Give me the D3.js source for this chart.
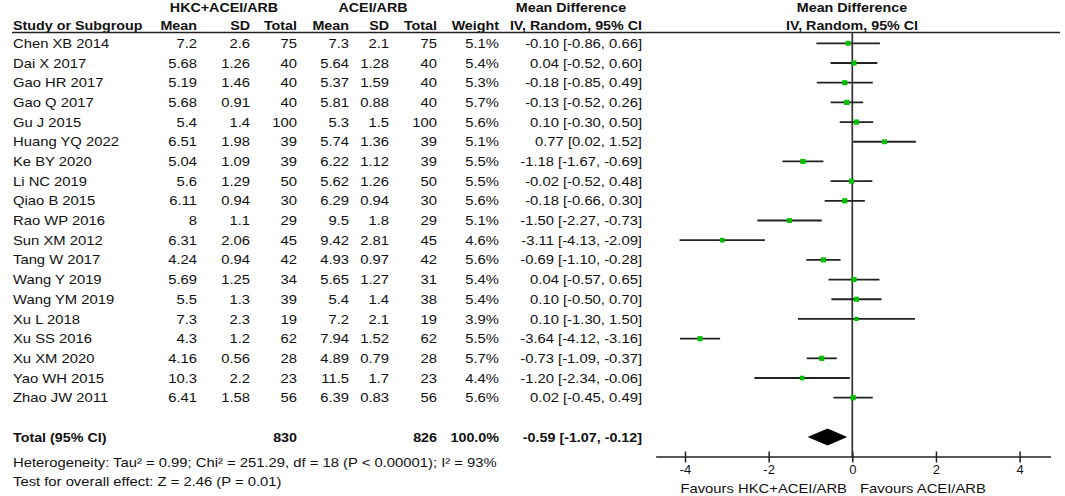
<!DOCTYPE html>
<html lang="en">
  <head>
    <meta charset="utf-8">
    <title>Forest plot</title>
    <script src="https://d3js.org/d3.v7.min.js"></script>
    <style>
      body { margin: 0; background: #fff; }
      svg text { font-family: "Liberation Sans", Arial, sans-serif; font-size: 13px; fill: #111; }
    </style>
  </head>
  <body>
    <div id="grafico"></div>
    <script>
      // data
      const studies = ['Chen XB 2014', 'Dai X 2017', 'Gao HR 2017', 'Gao Q 2017', 'Gu J 2015',
        'Huang YQ 2022', 'Ke BY 2020', 'Li NC 2019', 'Qiao B 2015', 'Rao WP 2016', 'Sun XM 2012',
        'Tang W 2017', 'Wang Y 2019', 'Wang YM 2019', 'Xu L 2018', 'Xu SS 2016', 'Xu XM 2020',
        'Yao WH 2015', 'Zhao JW 2011']
      const mean1 = [7.2, 5.68, 5.19, 5.68, 5.4, 6.51, 5.04, 5.6, 6.11, 8, 6.31, 4.24, 5.69, 5.5, 7.3, 4.3, 4.16, 10.3, 6.41]
      const sd1 = [2.6, 1.26, 1.46, 0.91, 1.4, 1.98, 1.09, 1.29, 0.94, 1.1, 2.06, 0.94, 1.25, 1.3, 2.3, 1.2, 0.56, 2.2, 1.58]
      const n1 = [75, 40, 40, 40, 100, 39, 39, 50, 30, 29, 45, 42, 34, 39, 19, 62, 28, 23, 56]
      const mean2 = [7.3, 5.64, 5.37, 5.81, 5.3, 5.74, 6.22, 5.62, 6.29, 9.5, 9.42, 4.93, 5.65, 5.4, 7.2, 7.94, 4.89, 11.5, 6.39]
      const sd2 = [2.1, 1.28, 1.59, 0.88, 1.5, 1.36, 1.12, 1.26, 0.94, 1.8, 2.81, 0.97, 1.27, 1.4, 2.1, 1.52, 0.79, 1.7, 0.83]
      const n2 = [75, 40, 40, 40, 100, 39, 39, 50, 30, 29, 45, 42, 31, 38, 19, 62, 28, 23, 56]
      const weight = [5.1, 5.4, 5.3, 5.7, 5.6, 5.1, 5.5, 5.5, 5.6, 5.1, 4.6, 5.6, 5.4, 5.4, 3.9, 5.5, 5.7, 4.4, 5.6]
      const md = [-0.10, 0.04, -0.18, -0.13, 0.10, 0.77, -1.18, -0.02, -0.18, -1.50, -3.11, -0.69, 0.04, 0.10, 0.10, -3.64, -0.73, -1.20, 0.02]
      const lo = [-0.86, -0.52, -0.85, -0.52, -0.30, 0.02, -1.67, -0.52, -0.66, -2.27, -4.13, -1.10, -0.57, -0.50, -1.30, -4.12, -1.09, -2.34, -0.45]
      const hi = [0.66, 0.60, 0.49, 0.26, 0.50, 1.52, -0.69, 0.48, 0.30, -0.73, -2.09, -0.28, 0.65, 0.70, 1.50, -3.16, -0.37, -0.06, 0.49]
      const total = { n1: 830, n2: 826, weight: 100.0, md: -0.59, lo: -1.07, hi: -0.12 }
      const ticks = [-4, -2, 0, 2, 4]

      const largura = 1065, altura = 496
      const svg = d3.select('#grafico').append('svg')
        .attr('width', largura).attr('height', altura)
      svg.append('rect').attr('width', largura).attr('height', altura).attr('fill', '#fff')

      const y = d3.scalePoint().domain(studies).range([43.3, 397.7])
      const yTotal = 437
      const x = d3.scaleLinear().domain([-4, 4]).range([685, 1019.6])
      const tam = d3.scaleSqrt().domain([0, 5.7]).range([0, 5.2])

      // text helper: slight horizontal stretch like the original
      const txt = (cx, cy, s, anchor = 'start', bold = false) =>
        svg.append('text')
          .attr('transform', `translate(${cx},${cy + 4.6}) scale(${bold ? 1.1 : 1.14},1)`)
          .attr('text-anchor', anchor)
          .attr('font-weight', bold ? 'bold' : null)
          .text(s)

      // headers
      txt(224, 7, 'HKC+ACEI/ARB', 'middle', true)
      txt(373, 7, 'ACEI/ARB', 'middle', true)
      txt(571, 7, 'Mean Difference', 'middle', true)
      txt(852, 7, 'Mean Difference', 'middle', true)
      txt(13, 25.5, 'Study or Subgroup', 'start', true)
      const cols = [197, 250, 297, 349, 389, 437, 499, 642]
      ;['Mean', 'SD', 'Total', 'Mean', 'SD', 'Total', 'Weight', 'IV, Random, 95% CI']
        .forEach((h, i) => txt(cols[i], 25.5, h, 'end', true))
      txt(852, 25.5, 'IV, Random, 95% CI', 'middle', true)

      svg.append('line').attr('x1', 12).attr('x2', 1060).attr('y1', 32.5).attr('y2', 32.5)
        .attr('stroke', '#222').attr('stroke-width', 1.5)

      // table rows
      studies.forEach((s, i) => {
        const cy = y(s)
        txt(13, cy, s)
        const vals = [mean1[i], sd1[i], n1[i], mean2[i], sd2[i], n2[i],
          weight[i].toFixed(1) + '%',
          `${md[i].toFixed(2)} [${lo[i].toFixed(2)}, ${hi[i].toFixed(2)}]`]
        vals.forEach((v, j) => txt(cols[j], cy, String(v), 'end'))
      })

      txt(13, yTotal, 'Total (95% CI)', 'start', true)
      txt(cols[2], yTotal, total.n1, 'end', true)
      txt(cols[5], yTotal, total.n2, 'end', true)
      txt(cols[6], yTotal, total.weight.toFixed(1) + '%', 'end', true)
      txt(cols[7], yTotal, `${total.md.toFixed(2)} [${total.lo.toFixed(2)}, ${total.hi.toFixed(2)}]`, 'end', true)
      txt(13, 462, 'Heterogeneity: Tau² = 0.99; Chi² = 251.29, df = 18 (P < 0.00001); I² = 93%')
      txt(13, 481, 'Test for overall effect: Z = 2.46 (P = 0.01)')

      // plot
      const plot = svg.append('g')
      plot.append('line')
        .attr('x1', x(0)).attr('x2', x(0)).attr('y1', 32.5).attr('y2', 457)
        .attr('stroke', '#333').attr('stroke-width', 1.7)

      plot.selectAll('.ci').data(studies).join('line')
        .attr('class', 'ci')
        .attr('x1', (d, i) => x(lo[i])).attr('x2', (d, i) => x(hi[i]))
        .attr('y1', d => y(d)).attr('y2', d => y(d))
        .attr('stroke', '#222').attr('stroke-width', 1.8)

      plot.selectAll('.sq').data(studies).join('rect')
        .attr('class', 'sq')
        .attr('x', (d, i) => x(md[i]) - tam(weight[i]) / 2)
        .attr('y', (d, i) => y(d) - tam(weight[i]) / 2)
        .attr('width', (d, i) => tam(weight[i]))
        .attr('height', (d, i) => tam(weight[i]))
        .attr('fill', '#00c000')

      plot.append('path')
        .attr('d', `M${x(total.lo)},${yTotal} L${x(total.md)},${yTotal - 8.5} L${x(total.hi)},${yTotal} L${x(total.md)},${yTotal + 8.5}Z`)
        .attr('fill', '#000')

      // axis
      plot.append('line')
        .attr('x1', x(-4.69)).attr('x2', x(4.75)).attr('y1', 457).attr('y2', 457)
        .attr('stroke', '#222').attr('stroke-width', 1.5)
      const eixo = plot.append('g')
        .attr('transform', 'translate(0,451.5)')
        .call(d3.axisBottom(x).tickValues(ticks).tickFormat(d => String(d))
          .tickSize(11).tickSizeOuter(0).tickPadding(2))
      eixo.select('.domain').remove()
      eixo.selectAll('.tick line').attr('stroke', '#222').attr('stroke-width', 1.5)
      eixo.selectAll('.tick text')
        .style('font-family', '"Liberation Sans", Arial, sans-serif')
        .style('font-size', '13px').attr('fill', '#111')

      txt(847, 488, 'Favours HKC+ACEI/ARB', 'end')
      txt(860, 488, 'Favours ACEI/ARB', 'start')
    </script>
  </body>
</html>
